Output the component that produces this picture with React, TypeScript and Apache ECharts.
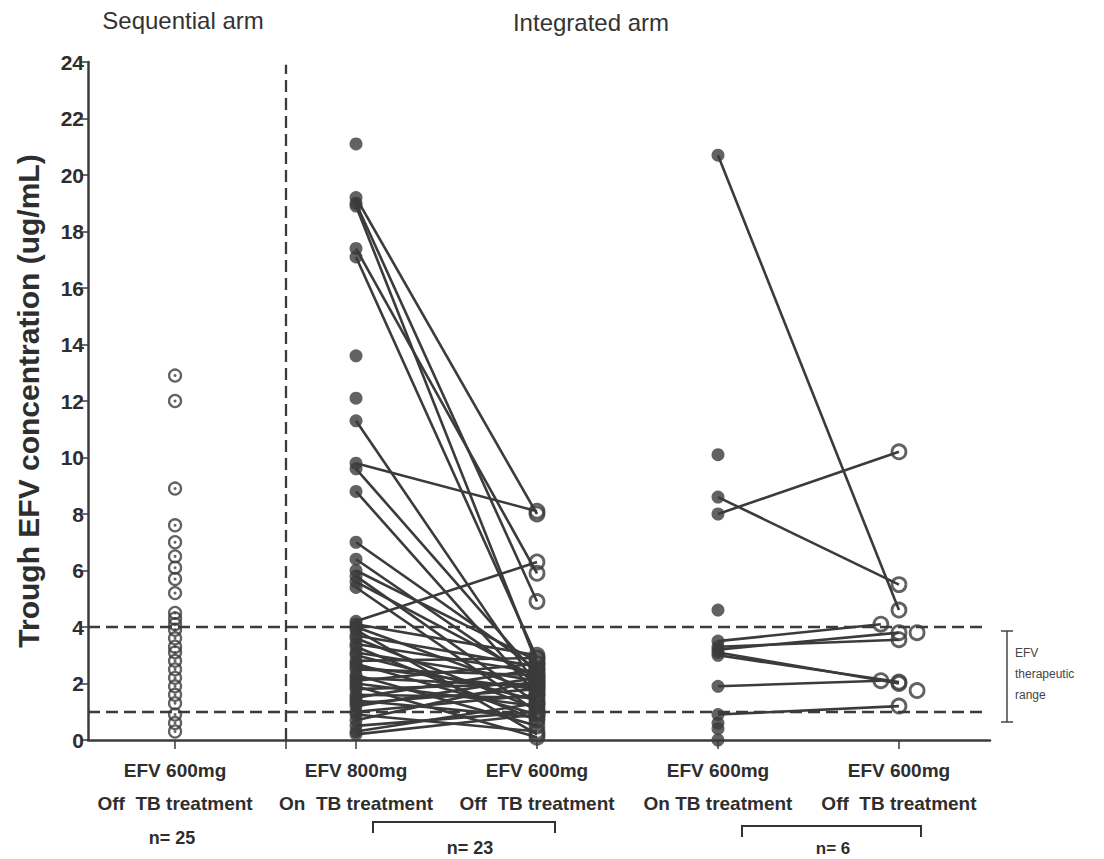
import React, { useEffect, useRef } from "react";
import * as echarts from "echarts";

// ---- Data ----
const categoryX = [1, 2, 3, 4, 5];
const categoryLabels = [
  "EFV 600mg\nOff  TB treatment",
  "EFV 800mg\nOn  TB treatment",
  "EFV 600mg\nOff  TB treatment",
  "EFV 600mg\nOn TB treatment",
  "EFV 600mg\nOff  TB treatment",
];
const yTicks = [0, 2, 4, 6, 8, 10, 12, 14, 16, 18, 20, 22, 24];

// Sequential arm, EFV 600mg off TB treatment (n = 25)
const sequentialOff = [
  12.9, 12.0, 8.9, 7.6, 7.0, 6.5, 6.1, 5.7, 5.2, 4.5, 4.3, 4.1, 3.9, 3.6, 3.3,
  3.1, 2.8, 2.5, 2.2, 1.9, 1.6, 1.3, 0.9, 0.6, 0.3,
];

// Integrated arm (n = 23): EFV 800mg on TB -> EFV 600mg off TB
const int23On = [
  19.2, 19.0, 18.9, 17.4, 17.1, 11.3, 9.8, 9.6, 8.8, 7.0, 6.4, 6.0, 5.8, 5.6,
  5.4, 4.2, 4.1, 4.0, 3.9, 3.7, 3.6, 3.4, 3.3, 3.1, 3.0, 2.8, 2.7, 2.6, 2.5,
  2.3, 2.2, 2.1, 2.0, 1.9, 1.8, 1.6, 1.5, 1.4, 1.3, 1.2, 1.0, 0.9, 0.7, 0.5,
  0.3, 0.2,
];
const int23Off = [
  8.0, 4.9, 2.7, 5.9, 2.9, 1.9, 8.1, 2.3, 1.6, 2.5, 2.0, 2.8, 1.3, 2.2, 1.0,
  6.3, 3.0, 1.7, 0.2, 2.6, 1.1, 2.4, 0.7, 2.1, 1.4, 2.9, 0.9, 1.8, 2.3, 0.5,
  1.9, 2.7, 1.2, 0.1, 2.0, 1.5, 2.5, 0.8, 1.8, 2.2, 1.6, 0.3, 2.1, 1.0, 1.3,
  0.9,
];
const int23OnUnpaired = [21.1, 13.6, 12.1];

// Integrated arm (n = 6): EFV 600mg on TB -> EFV 600mg off TB
const int6On = [20.7, 8.6, 8.0, 3.5, 3.2, 3.3, 3.0, 3.1, 1.9, 0.9];
const int6Off = [4.6, 5.5, 10.2, 4.1, 3.8, 3.55, 2.05, 2.0, 2.1, 1.2];
const int6OffX = [5, 5, 5, 4.9, 5, 5, 5, 5, 4.9, 5];
const int6OnUnpaired = [10.1, 4.6, 0.6, 0.4, 0.0];
const int6OffUnpaired = [3.8, 1.75];
const int6OffUnpairedX = [5.1, 5.1];

// therapeutic range
const therapeuticRange = [1, 4];
const armDividerX = 1.61;

const INK = "#3b3b3b";
const FONT = "'Liberation Sans', Arial, Helvetica, sans-serif";

export default function App() {
  const ref = useRef<HTMLDivElement>(null);

  useEffect(() => {
    document.body.style.margin = "0";
    const chart = echarts.init(ref.current!, null, { renderer: "svg" });

    const pairLines = [
      ...int23On.map((v, i) => ({ coords: [[2, v], [3, int23Off[i]]] })),
      ...int6On.map((v, i) => ({ coords: [[4, v], [int6OffX[i], int6Off[i]]] })),
    ];
    const filled = [
      ...int23On.map((v) => [2, v]),
      ...int23OnUnpaired.map((v) => [2, v]),
      ...int6On.map((v) => [4, v]),
      ...int6OnUnpaired.map((v) => [4, v]),
    ];
    const open = [
      ...int23Off.map((v) => [3, v]),
      ...int6Off.map((v, i) => [int6OffX[i], v]),
      ...int6OffUnpaired.map((v, i) => [int6OffUnpairedX[i], v]),
    ];
    const seq = sequentialOff.map((v) => [1, v]);

    const xMin = 0.519;
    const xMax = 5.503;
    const dash = [12, 6];

    chart.setOption({
      animation: false,
      grid: { left: 88, right: 114, top: 62, bottom: 119, containLabel: false, outerBoundsMode: "none" },
      xAxis: {
        type: "value",
        min: xMin,
        max: xMax,
        splitLine: { show: false },
        axisLine: { lineStyle: { color: INK, width: 2.5 } },
        axisTick: {
          show: true,
          customValues: [1, armDividerX, 2, 3, 4, 5],
          length: 9,
          lineStyle: { color: INK, width: 1.5 },
        },
        axisLabel: {
          customValues: categoryX,
          formatter: (v: number) => {
            const i = categoryX.indexOf(Math.round(v));
            return i >= 0 ? categoryLabels[i] : "";
          },
          fontFamily: FONT,
          fontWeight: "bold",
          fontSize: 19,
          lineHeight: 33,
          color: "#2e2e2e",
          margin: 14,
        },
      },
      yAxis: {
        type: "value",
        min: 0,
        max: 24,
        interval: 2,
        splitLine: { show: false },
        axisLine: { show: true, lineStyle: { color: INK, width: 2.5 } },
        axisTick: { show: true, length: 7, lineStyle: { color: INK, width: 1.5 } },
        axisLabel: {
          formatter: (v: number) => (yTicks.includes(v) ? String(v) : ""),
          fontFamily: FONT,
          fontWeight: "bold",
          fontSize: 21,
          color: "#2e2e2e",
          margin: 4,
        },
        name: "Trough EFV concentration (ug/mL)",
        nameLocation: "middle",
        nameRotate: 90,
        nameGap: 45,
        nameTextStyle: { fontFamily: FONT, fontWeight: "bold", fontSize: 30, color: "#2e2e2e" },
      },
      series: [
        {
          type: "lines",
          coordinateSystem: "cartesian2d",
          silent: true,
          z: 2,
          lineStyle: { color: INK, width: 2.6, opacity: 1 },
          data: pairLines,
        },
        {
          type: "scatter",
          silent: true,
          z: 3,
          symbol: "circle",
          symbolSize: 13,
          itemStyle: { color: INK },
          data: filled,
          markLine: {
            silent: true,
            symbol: "none",
            label: { show: false },
            lineStyle: { color: INK, width: 2.3, type: dash },
            data: [
              [{ coord: [xMin, therapeuticRange[1]] }, { coord: [5.48, therapeuticRange[1]] }],
              [{ coord: [xMin, therapeuticRange[0]] }, { coord: [5.48, therapeuticRange[0]] }],
              [{ coord: [armDividerX, 0] }, { coord: [armDividerX, 23.9] }],
            ],
          },
        },
        {
          type: "scatter",
          silent: true,
          z: 4,
          symbol: "circle",
          symbolSize: 14,
          itemStyle: { color: "rgba(255,255,255,0)", borderColor: INK, borderWidth: 2.8 },
          data: open,
        },
        {
          type: "scatter",
          silent: true,
          z: 4,
          symbol: "circle",
          symbolSize: 12,
          itemStyle: { color: "rgba(255,255,255,0)", borderColor: INK, borderWidth: 2.3 },
          data: seq,
        },
        {
          type: "scatter",
          silent: true,
          z: 5,
          symbol: "circle",
          symbolSize: 3,
          itemStyle: { color: INK },
          data: seq,
        },
      ],
      graphic: [
        {
          type: "text",
          x: 183,
          y: 20,
          style: { text: "Sequential arm", fontFamily: FONT, fontSize: 24, fill: "#333", align: "center", verticalAlign: "middle" },
        },
        {
          type: "text",
          x: 591,
          y: 22,
          style: { text: "Integrated arm", fontFamily: FONT, fontSize: 24, fill: "#333", align: "center", verticalAlign: "middle" },
        },
        { type: "line", shape: { x1: 1007, y1: 631, x2: 1007, y2: 722 }, style: { stroke: "#444", lineWidth: 1.5 } },
        { type: "line", shape: { x1: 1001, y1: 631, x2: 1013, y2: 631 }, style: { stroke: "#444", lineWidth: 1.5 } },
        { type: "line", shape: { x1: 1001, y1: 722, x2: 1013, y2: 722 }, style: { stroke: "#444", lineWidth: 1.5 } },
        {
          type: "text",
          x: 1015,
          y: 642,
          style: { text: "EFV\ntherapeutic\nrange", fontFamily: FONT, fontSize: 12, lineHeight: 21, fill: "#444", align: "left", verticalAlign: "top" },
        },
        {
          type: "text",
          x: 172,
          y: 838,
          style: { text: "n= 25", fontFamily: FONT, fontWeight: "bold", fontSize: 18, fill: "#2e2e2e", align: "center", verticalAlign: "middle" },
        },
        {
          type: "polyline",
          shape: { points: [[373, 833], [373, 822], [555, 822], [555, 833]] },
          style: { stroke: "#333", lineWidth: 2, fill: null },
        },
        {
          type: "text",
          x: 470,
          y: 848,
          style: { text: "n= 23", fontFamily: FONT, fontWeight: "bold", fontSize: 18, fill: "#2e2e2e", align: "center", verticalAlign: "middle" },
        },
        {
          type: "polyline",
          shape: { points: [[742, 837], [742, 826], [921, 826], [921, 837]] },
          style: { stroke: "#333", lineWidth: 2, fill: null },
        },
        {
          type: "text",
          x: 833,
          y: 848,
          style: { text: "n= 6", fontFamily: FONT, fontWeight: "bold", fontSize: 17, fill: "#2e2e2e", align: "center", verticalAlign: "middle" },
        },
      ],
    });

    return () => chart.dispose();
  }, []);

  return <div ref={ref} style={{ width: 1104, height: 859 }} />;
}
